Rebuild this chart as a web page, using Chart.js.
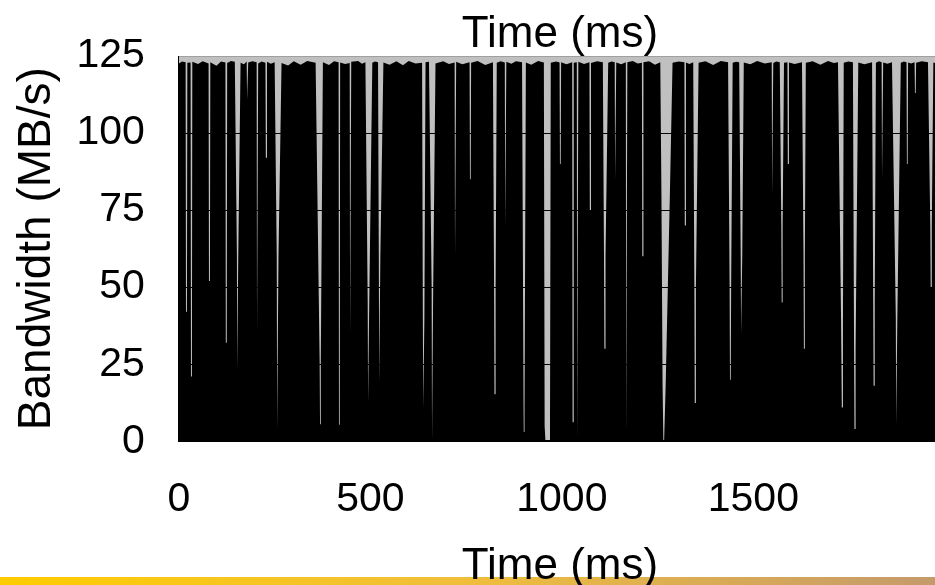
<!DOCTYPE html>
<html>
<head>
<meta charset="utf-8">
<script src="https://cdn.jsdelivr.net/npm/chart.js@4.4.1/dist/chart.umd.min.js"></script>
<style>
  html, body { margin: 0; padding: 0; background: #fff; }
  #wrap { width: 935px; height: 585px; overflow: hidden; }
  canvas { display: block; }
</style>
</head>
<body>
<div id="wrap"><canvas id="bwChart" width="941" height="590"></canvas></div>
<script>
// samples of the bandwidth trace (time in ms, MB/s)
const timeMs = [
  0, 8,
  17.5, 18.5, 21, 22,
  30.5, 31.5, 34, 35,
  50, 62,
  77.5, 78.5, 81, 82,
  98, 110,
  121.5, 122.5, 125, 126,
  136,
  146, 151.5, 152, 154, 155, 161,
  170,
  177, 178, 180, 181,
  192,
  203, 204, 206, 207,
  216,
  226, 227, 229, 230,
  240,
  250, 255.5, 256.5, 258.5, 260, 268,
  285, 300, 318, 335,
  357, 367.5, 368.5, 370, 371, 376,
  392, 405,
  417, 418, 420, 421,
  434,
  446, 447, 449, 450,
  468, 478,
  487, 493, 494, 496, 497, 505,
  512,
  520, 522, 523, 524.5, 526, 534,
  550, 568, 585, 600, 618,
  635, 637, 638, 639.5, 641, 644,
  653, 660, 661, 663, 664, 670,
  690, 705,
  720, 721, 723, 724,
  740,
  759, 760, 762, 763,
  780, 800,
  820, 823, 824, 826, 827, 830,
  840,
  851, 852, 854, 855,
  868, 880,
  896, 900, 900.5, 902, 902.5, 906,
  920, 938,
  953, 955, 957, 967, 969, 971,
  985,
  994, 995, 997, 998,
  1012,
  1027, 1028, 1030, 1031,
  1039, 1040, 1042, 1043,
  1058,
  1072, 1073, 1075, 1076,
  1092,
  1107, 1110, 1111, 1113, 1114, 1121,
  1130,
  1138, 1139, 1141, 1142,
  1155,
  1167, 1168, 1170, 1171,
  1185, 1198,
  1209, 1210, 1212, 1213,
  1228, 1243,
  1257, 1260, 1263, 1265, 1267, 1271, 1282, 1289,
  1305,
  1320, 1321, 1323, 1324,
  1333,
  1343, 1346, 1347, 1348.5, 1350, 1357,
  1375, 1395, 1415,
  1434, 1438, 1439, 1441, 1442, 1446,
  1455,
  1463, 1467, 1468, 1470, 1471, 1475,
  1492, 1510, 1530,
  1548, 1549, 1551, 1552,
  1560,
  1569, 1573, 1574, 1575.5, 1576.5, 1580,
  1589, 1590, 1592, 1593,
  1608,
  1627, 1631, 1632, 1633.5, 1634.5, 1637,
  1655, 1675, 1695, 1710,
  1721, 1729, 1731, 1733, 1734, 1736,
  1748,
  1760, 1763, 1764, 1765.5, 1767, 1774,
  1790,
  1810, 1813, 1814, 1815.5, 1817, 1820,
  1828,
  1835, 1836, 1838, 1839,
  1850,
  1862, 1872, 1873, 1875, 1876, 1885,
  1893,
  1900, 1901, 1903, 1904,
  1912,
  1921, 1922, 1924, 1925,
  1940,
  1956, 1962, 1963, 1965, 1966, 1970,
  1982, 1990
];
const bandwidthMBs = [
  122.6, 123.2,
  123.0, 42, 42, 122.8,
  122.9, 21, 21, 123.1,
  122.4, 123.3,
  122.6, 52, 52, 123.0,
  121.8, 123.2,
  122.9, 32, 32, 122.7,
  123.4,
  123.1, 60, 23, 23, 60, 122.8,
  122.3,
  123.2, 111, 111, 122.9,
  123.3,
  123.0, 36, 36, 122.6,
  123.2,
  122.8, 92, 92, 123.1,
  122.5,
  123.0, 60, 4, 4, 60, 122.7,
  121.9, 123.3, 122.2, 123.4,
  122.8, 26, 5.5, 5.5, 26, 123.0,
  122.1, 123.3,
  123.0, 5.4, 5.4, 122.9,
  122.4,
  122.7, 35, 35, 123.1,
  123.4, 122.5,
  123.0, 45, 12.7, 12.7, 45, 122.8,
  123.2,
  123.0, 60, 19, 19, 60, 122.9,
  122.2, 123.3, 122.0, 123.4, 122.6,
  122.8, 40, 10.8, 10.8, 40, 123.0,
  123.1, 50, 0.4, 0.4, 50, 122.6,
  123.3, 122.4,
  122.9, 60, 60, 123.1,
  122.3,
  123.0, 85, 85, 122.8,
  123.4, 122.1,
  123.0, 50, 15.3, 15.3, 50, 122.8,
  123.3,
  122.9, 70, 70, 123.1,
  122.5, 123.3,
  123.0, 10, 3, 3, 10, 122.9,
  122.2, 123.4,
  122.9, 5, 0.4, 0.4, 5, 122.8,
  123.2,
  122.9, 90, 90, 123.0,
  122.3,
  123.0, 6.2, 6.2, 122.8,
  123.0, 0.4, 0.4, 123.1,
  122.4,
  123.0, 75, 75, 122.7,
  123.3,
  123.0, 60, 30, 30, 60, 122.8,
  123.2,
  123.0, 85, 85, 122.9,
  122.3,
  123.0, 3.3, 3.3, 123.0,
  123.4, 122.6,
  122.8, 60, 60, 123.0,
  123.3, 122.2,
  123.0, 80, 18, 0.4, 0.4, 18, 80, 122.8,
  123.2,
  123.0, 70, 70, 122.9,
  122.4,
  123.0, 50, 12.4, 12.4, 50, 122.8,
  123.3, 122.1, 123.4,
  123.0, 50, 20, 20, 50, 122.8,
  123.1,
  123.0, 60, 35, 35, 60, 122.9,
  122.3, 123.4, 122.6,
  123.0, 80, 80, 122.7,
  123.2,
  123.0, 70, 45, 45, 70, 122.8,
  123.0, 90, 90, 122.9,
  122.4,
  123.0, 60, 30, 30, 60, 122.8,
  123.3, 122.2, 123.4, 122.7,
  123.0, 40, 11, 11, 40, 122.8,
  123.2,
  123.0, 30, 4, 4, 30, 122.9,
  122.3,
  123.0, 45, 18, 18, 45, 122.8,
  123.3,
  123.0, 85, 85, 122.9,
  122.5,
  123.0, 40, 5.4, 5.4, 40, 122.8,
  123.2,
  123.0, 90, 90, 122.9,
  122.6,
  123.0, 113, 113, 122.8,
  123.3,
  123.0, 70, 50, 50, 70, 122.9,
  122.4, 123.1
];
const xTicks = [0, 500, 1000, 1500];
const yTicks = [0, 25, 50, 75, 100, 125];

const family = 'Liberation Sans, Arial, sans-serif';

const plotBackground = {
  id: 'plotBackground',
  beforeDraw(chart) {
    const { ctx, chartArea: a, width, height } = chart;
    ctx.save();
    // footer strip of the slide
    const g = ctx.createLinearGradient(0, 0, 935, 0);
    g.addColorStop(0, '#ffcc00');
    g.addColorStop(0.5, '#f0be3c');
    g.addColorStop(1, '#c49a6c');
    ctx.fillStyle = g;
    ctx.fillRect(0, 577, width, height - 577);
    ctx.fillStyle = '#c0c0c0';
    ctx.fillRect(a.left, a.top, a.right - a.left, a.bottom - a.top);
    ctx.restore();
  }
};

new Chart(document.getElementById('bwChart'), {
  type: 'line',
  data: {
    datasets: [{
      label: 'Bandwidth',
      data: timeMs.map((t, i) => ({ x: t, y: bandwidthMBs[i] })),
      borderWidth: 0,
      borderColor: '#000',
      backgroundColor: '#000',
      fill: 'origin',
      pointRadius: 0,
      tension: 0
    }]
  },
  options: {
    responsive: false,
    animation: false,
    devicePixelRatio: 1,
    layout: { padding: 0 },
    plugins: {
      legend: { display: false },
      tooltip: { enabled: false }
    },
    scales: {
      x: {
        type: 'linear',
        min: 0,
        max: 1990,
        afterBuildTicks: axis => { axis.ticks = xTicks.map(v => ({ value: v })); },
        grid: { display: false, drawTicks: false },
        border: { display: false },
        ticks: {
          padding: 34, color: '#000', font: { family, size: 41 }, maxRotation: 0, autoSkip: false,
          callback: v => String(v)
        },
        title: {
          display: true, text: 'Time (ms)', color: '#000',
          font: { family, size: 44, lineHeight: 0.2 }, padding: { top: 3.7, bottom: 19 }
        }
      },
      xTop: {
        type: 'linear',
        axis: 'x',
        position: 'top',
        grid: { display: false, drawTicks: false },
        border: { display: false },
        ticks: { display: false },
        title: {
          display: true, text: 'Time (ms)', color: '#000',
          font: { family, size: 44, lineHeight: 0.2 }, padding: { top: 30.2, bottom: 17 }
        }
      },
      y: {
        min: 0,
        max: 125,
        afterBuildTicks: axis => { axis.ticks = yTicks.map(v => ({ value: v })); },
        grid: {
          color: ctx => (ctx.tick && ctx.tick.value === 125 ? '#a0a0a0' : '#000'),
          lineWidth: 1,
          drawTicks: false
        },
        border: { display: true, color: '#000', width: 1 },
        ticks: { padding: 34, color: '#000', font: { family, size: 41, lineHeight: 1 }, callback: v => String(v) },
        title: {
          display: true, text: 'Bandwidth (MB/s)', color: '#000',
          font: { family, size: 46, lineHeight: 0.2 }, padding: { top: 33, bottom: 0.3 }
        }
      }
    }
  },
  plugins: [plotBackground]
});
</script>
</body>
</html>
